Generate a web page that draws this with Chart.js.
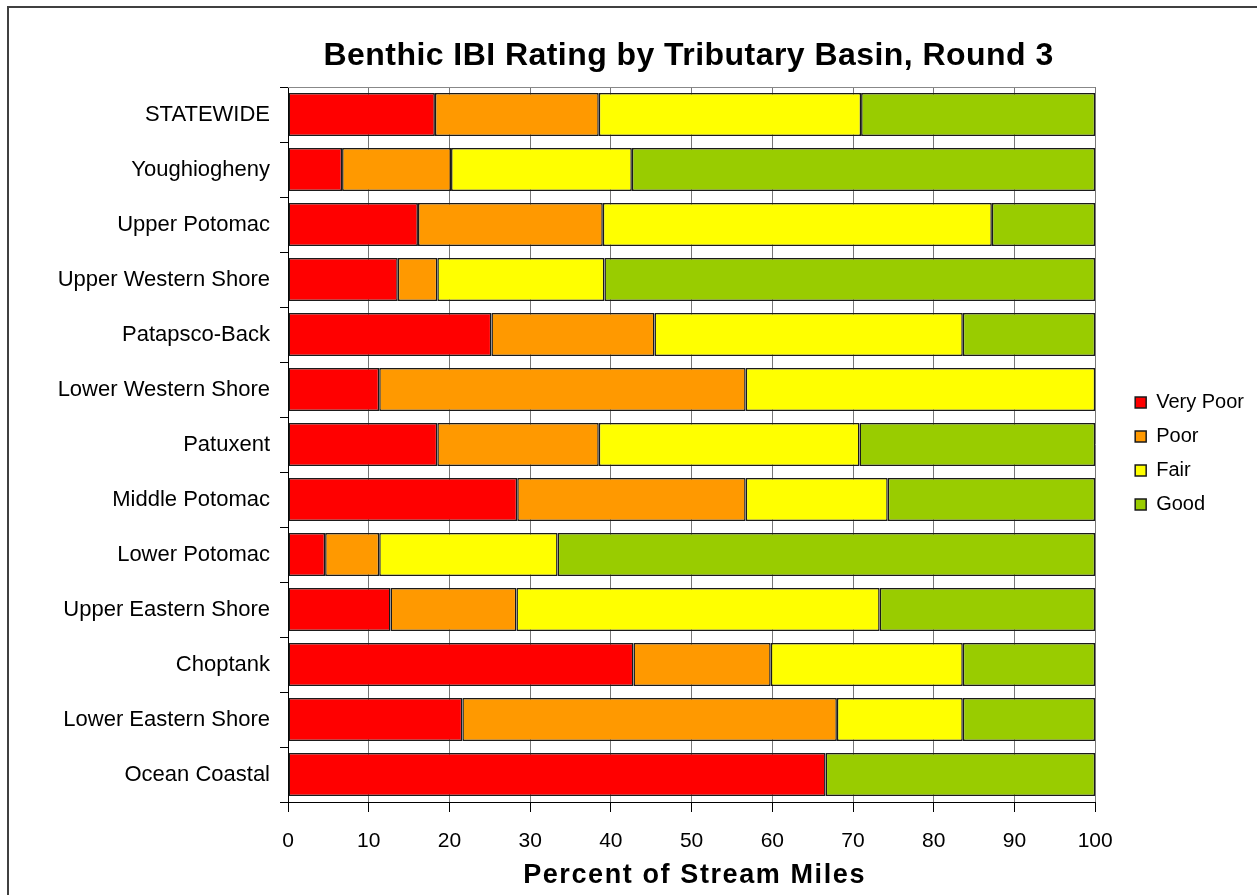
<!DOCTYPE html>
<html>
<head>
<meta charset="utf-8">
<title>Benthic IBI Rating by Tributary Basin, Round 3</title>
<script src="https://cdn.jsdelivr.net/npm/chart.js@4"></script>
<style>
  html, body { margin: 0; padding: 0; background: #fff; overflow: hidden; }
  #frame {
    position: absolute; left: 7px; top: 6px; width: 1400px; height: 1000px;
    border-left: 2px solid #404040; border-top: 2px solid #404040;
  }
  #wrap { position: absolute; left: 0; top: 0; width: 1257px; height: 895px; }
</style>
</head>
<body>
<div id="frame"></div>
<div id="wrap"><canvas id="chart" width="1257" height="895"></canvas></div>
<script>
// ---------------------------------------------------------------------------
// Data (percent of stream miles)
// ---------------------------------------------------------------------------
const basins = [
    'STATEWIDE', 'Youghiogheny', 'Upper Potomac', 'Upper Western Shore',
    'Patapsco-Back', 'Lower Western Shore', 'Patuxent', 'Middle Potomac',
    'Lower Potomac', 'Upper Eastern Shore', 'Choptank', 'Lower Eastern Shore',
    'Ocean Coastal'
];
const veryPoor = [18.2, 6.7, 16.1, 13.6, 25.2, 11.3, 18.5, 28.4, 4.6, 12.7, 42.8, 21.6, 66.6];
const poor     = [20.3, 13.5, 22.9, 4.9, 20.2, 45.4, 20.0, 28.3, 6.7, 15.6, 17.0, 46.4, 0];
const fair     = [32.5, 22.4, 48.2, 20.7, 38.2, 43.3, 32.3, 17.6, 22.1, 45.0, 23.8, 15.6, 0];
const good     = [29.0, 57.4, 12.8, 60.8, 16.4, 0, 29.2, 25.7, 66.6, 26.7, 16.4, 16.4, 33.4];
const xTicks   = [0, 10, 20, 30, 40, 50, 60, 70, 80, 90, 100];

const TITLE = 'Benthic IBI Rating by Tributary Basin, Round 3';
const X_TITLE = 'Percent of Stream Miles';

Chart.defaults.font.family = '"Liberation Sans", Arial, Helvetica, sans-serif';
Chart.defaults.color = '#000';

function series(label, data, color) {
    return {
        label: label,
        data: data,
        backgroundColor: color,
        borderColor: '#1a1a1a',
        borderWidth: 1.5,
        borderSkipped: false,
        barPercentage: 0.78,
        categoryPercentage: 1.0
    };
}

// titles drawn centred on the plot area, spaced like the original
const decor = {
    id: 'decor',
    afterDraw(chart) {
        const ctx = chart.ctx;
        const a = chart.chartArea;
        const cx = (a.left + a.right) / 2;
        ctx.save();
        // plot area top edge
        ctx.strokeStyle = '#888';
        ctx.lineWidth = 1;
        ctx.beginPath();
        ctx.moveTo(a.left, a.top + 0.5);
        ctx.lineTo(a.right, a.top + 0.5);
        ctx.stroke();

        ctx.fillStyle = '#000';
        ctx.textAlign = 'center';
        ctx.textBaseline = 'alphabetic';
        ctx.font = 'bold 32px "Liberation Sans", Arial, sans-serif';
        ctx.letterSpacing = '0.45px';
        ctx.fillText(TITLE, cx - 3, 65);
        ctx.font = 'bold 27px "Liberation Sans", Arial, sans-serif';
        ctx.letterSpacing = '1.6px';
        ctx.fillText(X_TITLE, cx + 3, 883);
        ctx.restore();
    }
};

new Chart(document.getElementById('chart'), {
    type: 'bar',
    data: {
        labels: basins,
        datasets: [
            series('Very Poor', veryPoor, '#FF0000'),
            series('Poor', poor, '#FF9900'),
            series('Fair', fair, '#FFFF00'),
            series('Good', good, '#99CC00')
        ]
    },
    options: {
        indexAxis: 'y',
        responsive: false,
        animation: false,
        layout: { padding: { top: 87, left: 0, right: 3, bottom: 0 } },
        plugins: {
            title: { display: false },
            tooltip: { enabled: false },
            legend: {
                position: 'right',
                fullSize: false,
                // blank title only nudges the items down to where the original has them
                title: { display: true, text: ' ', font: { size: 10 }, padding: 3 },
                labels: {
                    boxWidth: 11,
                    boxHeight: 11,
                    padding: 14,
                    color: '#000',
                    font: { size: 20 }
                }
            }
        },
        scales: {
            x: {
                type: 'linear',
                stacked: true,
                min: 0,
                max: 100,
                afterBuildTicks(scale) {
                    scale.ticks = xTicks.map(v => ({ value: v }));
                },
                afterFit(scale) { scale.height = 93; },
                grid: { color: '#777', tickColor: '#000', tickLength: 10 },
                border: { color: '#000', width: 1 },
                ticks: { color: '#000', font: { size: 21 }, padding: 17, maxRotation: 0 }
            },
            y: {
                stacked: true,
                offset: true,
                afterFit(scale) { scale.width = 288; },
                grid: { offset: true, drawOnChartArea: false, color: '#000', tickLength: 8 },
                border: { color: '#000', width: 1 },
                ticks: { color: '#000', font: { size: 22 }, padding: 10, autoSkip: false }
            },
            // empty spacer between plot and legend
            gap: {
                type: 'linear',
                position: 'right',
                display: true,
                grid: { display: false },
                border: { display: false },
                ticks: { display: false },
                afterFit(scale) { scale.width = 26; }
            }
        }
    },
    plugins: [decor]
});
</script>
</body>
</html>
